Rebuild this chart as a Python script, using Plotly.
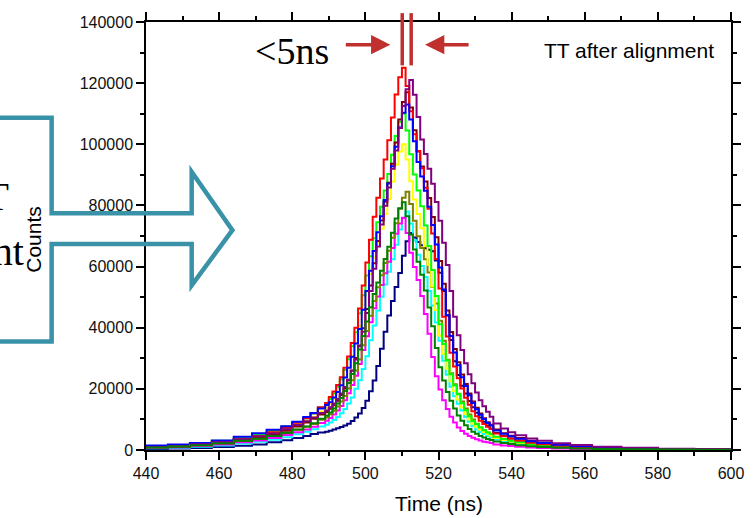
import plotly.graph_objects as go

# ---------------- data (counts in thousands, per time bin; bins start at edge) ----------------
bin_edges = [440, 446, 452, 458, 464, 469, 473, 477, 480, 483, 485, 487, 489,
             490, 491, 492, 493, 494, 495, 496, 497, 498, 499, 500, 501, 502, 503, 504,
             505, 506, 507, 508, 509, 510, 511, 512, 513, 514, 515, 516, 517, 518, 519,
             520, 521, 522, 523, 524, 525, 526, 527, 528, 529, 530, 531, 532, 533, 534,
             535, 537, 539, 541, 544, 547, 551, 556, 562, 570, 580, 590]
last_edge = 600

navy = [0.36, 0.48, 0.67, 0.95, 1.36, 1.83, 2.5, 3.2, 3.9, 4.6, 5.2, 5.7, 6.0,
        6.3, 6.7, 7.1, 7.5, 8.0, 8.6, 9.5, 10.6, 11.9, 13.7, 16.1, 19.2, 22.7, 27.5, 33.1,
        38.7, 44.0, 48.7, 53.3, 57.9, 63.5, 68.3, 71.0,
        69.5, 68.0, 67.0, 66.0, 65.5, 65.0, 62.0, 58.0, 52.0, 44.0, 36.0, 29.0, 24.5, 21.0,
        18.5, 16.0, 14.0, 12.2, 10.6, 9.2, 8.0, 7.0,
        5.6, 4.6, 3.8, 3.0, 2.3, 1.7, 1.2, 0.85, 0.55, 0.33, 0.2, 0.13]
cyan = [0.59, 0.77, 1.08, 1.48, 2.1, 2.73, 3.35, 4.2, 5.15, 6.0, 6.8, 7.7, 8.3,
        9.0, 9.8, 10.8, 12.0, 13.4, 15.2, 17.2, 20.0, 22.8, 26.5, 30.7, 35.9, 40.7, 45.6, 50.1,
        54.1, 58.3, 62.4, 67.1, 72.1, 75.9, 78.0,
        74.1, 68.6, 63.9, 60.2, 56.6, 52.0, 47.3, 41.7, 35.7, 29.2, 24.6, 20.7, 17.6, 15.1,
        12.9, 10.8, 9.2, 7.8, 6.7, 5.9, 5.2, 4.6, 4.1,
        3.4, 2.8, 2.3, 1.9, 1.5, 1.2, 0.86, 0.62, 0.4, 0.27, 0.17, 0.12]
magenta = [0.7, 0.94, 1.29, 1.79, 2.5, 3.1, 3.9, 4.9, 5.8, 6.7, 7.6, 8.8, 9.6,
           10.5, 11.6, 12.9, 14.4, 16.3, 18.6, 21.3, 24.3, 28.1, 32.7, 37.2, 41.8, 46.4, 50.2,
           54.0, 57.8, 61.6, 66.1, 70.7, 74.1, 76.0,
           71.0, 64.5, 59.9, 55.6, 50.4, 44.5, 38.0, 30.4, 24.1, 19.8, 16.3, 13.4, 10.9, 9.0,
           7.4, 6.2, 5.3, 4.6, 4.0, 3.5, 3.1, 2.7, 2.5, 2.3,
           1.8, 1.5, 1.3, 1.06, 0.83, 0.63, 0.46, 0.3, 0.21, 0.14, 0.09, 0.06]
olive = [0.86, 1.17, 1.56, 2.17, 2.96, 3.6, 4.6, 5.6, 6.6, 7.6, 8.5, 9.9, 10.6,
         11.7, 12.8, 14.2, 15.9, 17.7, 20.1, 22.8, 26.0, 29.6, 34.3, 38.9, 43.9, 48.7, 53.2,
         57.2, 61.2, 65.2, 69.4, 74.2, 78.9, 82.5, 84.5,
         80.5, 75.0, 69.9, 66.1, 62.4, 58.1, 53.3, 47.9, 42.3, 35.7, 29.5, 25.1, 21.5, 18.4,
         15.9, 13.6, 11.6, 10.0, 8.6, 7.4, 6.5, 5.7, 5.2,
         4.1, 3.5, 2.9, 2.4, 1.9, 1.45, 1.06, 0.79, 0.52, 0.33, 0.22, 0.15]
yellow = [1.1, 1.45, 1.9, 2.7, 3.6, 4.5, 5.7, 7.0, 8.3, 9.5, 10.8, 12.6, 13.8,
          15.2, 16.8, 18.8, 21.0, 23.8, 27.0, 30.8, 35.0, 40.6, 46.0, 51.9, 57.6, 63.0, 67.7,
          72.4, 77.2, 82.1, 87.8, 93.4, 97.6, 100.0,
          95.0, 87.9, 81.9, 77.2, 72.5, 66.7, 60.6, 53.5, 45.8, 37.4, 31.5, 26.6, 22.5, 19.3,
          16.5, 13.9, 11.8, 10.0, 8.6, 7.6, 6.7, 5.9, 5.2, 4.7,
          3.9, 3.3, 2.75, 2.3, 1.8, 1.4, 1.05, 0.75, 0.48, 0.32, 0.21, 0.15]
lime = [1.2, 1.6, 2.1, 3.0, 4.0, 5.0, 6.3, 7.7, 9.1, 10.4, 11.9, 13.9, 15.2,
        16.7, 18.5, 20.7, 23.1, 26.2, 29.7, 33.9, 38.5, 44.7, 50.6, 57.1, 63.4, 69.3, 74.5,
        79.6, 84.9, 90.3, 96.6, 102.7, 107.4, 110.0,
        104.5, 96.7, 90.1, 84.9, 79.7, 73.4, 66.7, 58.9, 50.4, 41.1, 34.7, 29.3, 24.8, 21.2,
        18.2, 15.3, 13.0, 11.0, 9.5, 8.4, 7.4, 6.5, 5.7, 5.2,
        4.3, 3.6, 3.0, 2.5, 2.0, 1.5, 1.2, 0.8, 0.53, 0.35, 0.23, 0.17]
blue = [1.5, 1.8, 2.3, 3.1, 4.3, 5.5, 6.6, 7.8, 9.2, 10.8, 12.1, 13.6, 14.7,
        15.6, 17.2, 19.0, 21.2, 23.7, 26.9, 30.5, 34.8, 39.6, 45.9, 52.0, 58.6, 65.1, 71.2,
        76.5, 81.8, 87.2, 92.8, 99.2, 105.5, 110.3, 113.0,
        108.1, 101.0, 94.2, 89.5, 84.8, 79.6, 73.6, 67.2, 59.7, 52.5, 44.1, 37.3, 31.9, 27.7,
        23.8, 20.9, 17.9, 15.4, 13.3, 11.5, 10.1, 8.8, 8.0,
        6.4, 5.3, 4.5, 3.7, 2.9, 2.3, 1.7, 1.2, 0.8, 0.5, 0.34, 0.23]
wine = [0.88, 1.16, 1.6, 2.2, 3.2, 4.1, 5.0, 6.3, 7.7, 9.0, 10.2, 11.6, 12.4,
        13.5, 14.6, 16.1, 18.0, 20.1, 22.8, 25.9, 30.1, 34.2, 39.8, 46.1, 53.8, 61.1, 68.4,
        75.1, 81.2, 87.4, 93.6, 100.6, 108.1, 113.8, 117.0,
        112.0, 104.6, 97.6, 92.7, 87.8, 82.4, 76.2, 69.6, 61.8, 54.4, 45.6, 38.6, 33.0, 28.7,
        24.7, 21.6, 18.5, 15.9, 13.8, 11.9, 10.4, 9.1, 8.3,
        6.7, 5.5, 4.7, 3.9, 3.0, 2.3, 1.8, 1.3, 0.8, 0.53, 0.35, 0.24]
purple = [1.0, 1.3, 1.9, 2.5, 3.5, 4.5, 5.4, 6.8, 8.2, 9.4, 10.6, 12.1, 12.9,
          14.0, 15.2, 16.7, 18.5, 20.6, 23.0, 26.0, 29.6, 33.9, 38.7, 44.8, 52.0, 59.3, 66.6,
          73.8, 79.9, 85.9, 92.0, 98.0, 105.3, 112.5, 118.0, 121.0,
          116.2, 108.9, 101.6, 96.8, 92.0, 87.1, 81.1, 75.0, 67.8, 60.5, 52.0, 43.6, 37.5,
          32.7, 28.4, 24.8, 21.8, 18.8, 16.3, 14.3, 12.5, 10.9,
          8.7, 7.0, 5.8, 4.8, 3.8, 3.0, 2.2, 1.6, 1.1, 0.7, 0.44, 0.31]
darkgreen = [0.85, 1.17, 1.58, 2.19, 3.0, 3.69, 4.62, 5.67, 6.68, 7.7, 8.75, 10.2, 11.2,
             12.3, 13.6, 15.2, 17.0, 19.3, 21.9, 24.9, 28.4, 32.9, 37.3, 42.0, 46.7, 51.0,
             54.8, 58.6, 62.5, 66.5, 71.1, 75.7, 79.1, 81.0,
             76.5, 70.5, 65.6, 61.6, 57.3, 52.2, 46.6, 40.5, 33.4, 27.1, 22.7, 19.0, 16.1,
             13.6, 11.3, 9.6, 8.1, 6.9, 6.0, 5.3, 4.6, 4.1, 3.6, 3.3,
             2.75, 2.27, 1.94, 1.54, 1.26, 0.97, 0.71, 0.49, 0.32, 0.22, 0.15, 0.1]
red = [1.0, 1.3, 1.8, 2.5, 3.5, 4.5, 5.8, 7.3, 8.9, 10.4, 12.0, 14.0, 15.4,
       17.3, 19.1, 21.3, 23.8, 26.9, 30.6, 35.0, 40.0, 46.3, 53.8, 61.3, 68.8, 76.3, 82.5,
       88.8, 95.0, 101.3, 108.8, 116.3, 121.9, 125.0,
       119.1, 110.8, 103.3, 97.8, 92.2, 85.8, 78.9, 70.8, 62.5, 52.8, 43.6, 37.1, 31.8, 27.3,
       23.5, 20.1, 17.1, 14.8, 12.7, 11.0, 9.6, 8.5, 7.6, 6.9,
       5.4, 4.5, 3.8, 3.1, 2.4, 1.85, 1.4, 1.0, 0.7, 0.43, 0.29, 0.2]

series = [
    ("navy", navy, "#000080"),
    ("cyan", cyan, "#00FFFF"),
    ("magenta", magenta, "#FF00FF"),
    ("olive", olive, "#808000"),
    ("yellow", yellow, "#FFFF00"),
    ("lime", lime, "#00FF00"),
    ("wine", wine, "#800000"),
    ("red", red, "#FF0000"),
    ("blue", blue, "#0000FF"),
    ("purple", purple, "#800080"),
    ("darkgreen", darkgreen, "#008000"),
]

x_ticks = [440, 460, 480, 500, 520, 540, 560, 580, 600]
y_ticks = [0, 20000, 40000, 60000, 80000, 100000, 120000, 140000]

# ---------------- layout geometry ----------------
W, H = 756, 518
ML, MR, MT, MB = 146, 21, 16, 68
PW, PH = W - ML - MR, H - MT - MB


def px(xp):
    return (xp - ML) / PW


def py(yp):
    return (H - MB - yp) / PH


fig = go.Figure()
for name, vals, col in series:
    xs = bin_edges + [last_edge]
    ys = [v * 1000 for v in vals] + [vals[-1] * 1000]
    fig.add_trace(go.Scatter(x=xs, y=ys, mode="lines", line=dict(shape="hv", color=col, width=2),
                             name=name, showlegend=False, hoverinfo="skip"))

sans = "Liberation Sans, Arial, sans-serif"
serif = "Liberation Serif, Times New Roman, serif"
axis_common = dict(showline=True, linecolor="black", linewidth=1.5, mirror="allticks",
                   ticks="outside", ticklen=8, tickwidth=1.5, tickcolor="black",
                   showgrid=False, zeroline=False,
                   tickfont=dict(family=sans, size=16, color="#111111"))

fig.update_layout(
    width=W, height=H, margin=dict(l=ML, r=MR, t=MT, b=MB),
    paper_bgcolor="white", plot_bgcolor="white",
    xaxis=dict(range=[440, 600], tickvals=x_ticks,
               minor=dict(dtick=10, tick0=440, ticks="outside", ticklen=4, tickwidth=1.5, tickcolor="black"),
               **axis_common),
    yaxis=dict(range=[0, 140000], tickvals=y_ticks, tickformat="d",
               minor=dict(dtick=10000, tick0=0, ticks="outside", ticklen=4, tickwidth=1.5, tickcolor="black"),
               **axis_common),
)

teal = "#3A92A8"
pts = [(-10, 113), (51, 113), (51, 210), (192, 210), (192, 168), (233, 227), (192, 283),
       (192, 241), (51, 241), (51, 340), (-10, 340)]
path = "M " + " L ".join(f"{px(a):.4f},{py(b):.4f}" for a, b in pts)
darkred = "#C0302F"
fig.update_layout(shapes=[
    dict(type="path", xref="paper", yref="paper", path=path, line=dict(color=teal, width=4.5),
         layer="above"),
    dict(type="line", xref="paper", yref="paper", x0=px(404), x1=px(404), y0=py(60), y1=py(7),
         line=dict(color=darkred, width=3.5)),
    dict(type="line", xref="paper", yref="paper", x0=px(413), x1=px(413), y0=py(60), y1=py(7),
         line=dict(color=darkred, width=3.5)),
])

ann = [
    dict(text="TT after alignment", x=px(720), y=py(45), xanchor="right", yanchor="middle",
         font=dict(family=sans, size=21, color="black")),
    dict(text="&lt;5ns", x=px(293), y=py(45), xanchor="center", yanchor="middle",
         font=dict(family=serif, size=38, color="black")),
    dict(text="Counts", x=px(33), y=py(236), textangle=-90, xanchor="center", yanchor="middle",
         font=dict(family=sans, size=21, color="black")),
    dict(text="Time (ns)", x=0.5, y=py(504), xanchor="center", yanchor="middle",
         font=dict(family=sans, size=21, color="black")),
    dict(text="Before TT", x=px(10), y=py(193), xanchor="right", yanchor="middle",
         font=dict(family=serif, size=40, color="black")),
    dict(text="alignment", x=px(25), y=py(249), xanchor="right", yanchor="middle",
         font=dict(family=serif, size=40, color="black")),
    dict(text="", x=px(392), y=py(39), ax=-46, ay=0, showarrow=True, arrowhead=2,
         arrowsize=1.1, arrowwidth=3.5, arrowcolor=darkred),
    dict(text="", x=px(427), y=py(39), ax=45, ay=0, showarrow=True, arrowhead=2,
         arrowsize=1.1, arrowwidth=3.5, arrowcolor=darkred),
]
for a in ann:
    a.setdefault("showarrow", False)
    a["xref"] = "paper"
    a["yref"] = "paper"
fig.update_layout(annotations=ann)

fig.write_html("out.html")
